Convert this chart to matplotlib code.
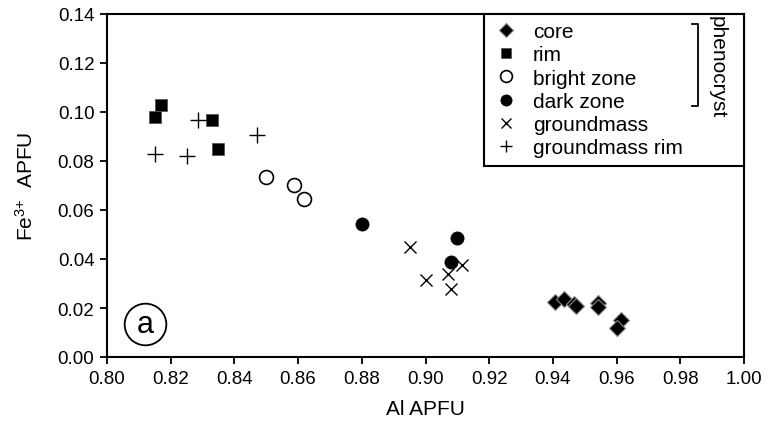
import matplotlib
matplotlib.use("Agg")
import matplotlib.pyplot as plt

plt.rcParams['font.family'] = ['Liberation Sans', 'DejaVu Sans']
plt.rcParams['mathtext.fontset'] = 'custom'
plt.rcParams['mathtext.rm'] = 'Liberation Sans'
plt.rcParams['mathtext.it'] = 'Liberation Sans:italic'
plt.rcParams['mathtext.bf'] = 'Liberation Sans:bold'
plt.rcParams['mathtext.default'] = 'regular'

# ---- data (Al APFU, Fe3+ APFU) ----
core_x = [0.9408, 0.9435, 0.9465, 0.9473, 0.9543, 0.9543, 0.9614, 0.9600]
core_y = [0.0224, 0.0237, 0.0216, 0.0208, 0.0219, 0.0203, 0.0151, 0.0118]

rim_x = [0.815, 0.817, 0.833, 0.835]
rim_y = [0.098, 0.103, 0.0967, 0.085]

bright_x = [0.850, 0.8588, 0.862]
bright_y = [0.0735, 0.070, 0.0645]

dark_x = [0.880, 0.910, 0.908]
dark_y = [0.0543, 0.0486, 0.0388]

gm_x = [0.895, 0.900, 0.907, 0.908, 0.9115]
gm_y = [0.045, 0.0314, 0.0339, 0.0278, 0.0376]

gmrim_x = [0.815, 0.825, 0.8285, 0.847]
gmrim_y = [0.083, 0.082, 0.0967, 0.0906]

labels = ["core", "rim", "bright zone", "dark zone", "groundmass", "groundmass rim"]
xticks = [0.80, 0.82, 0.84, 0.86, 0.88, 0.90, 0.92, 0.94, 0.96, 0.98, 1.00]
yticks = [0.00, 0.02, 0.04, 0.06, 0.08, 0.10, 0.12, 0.14]

FS = 13.5
LFS = 15

fig = plt.figure(figsize=(7.67, 4.31), dpi=100)
ax = fig.add_axes([107/767, 1 - 358/431, (744-107)/767, (358-15)/431])

h_core, = ax.plot(core_x, core_y, ls='none', marker='D', ms=8.5, mfc='black',
                  mec='#888888', mew=0.8, label=labels[0])
h_rim, = ax.plot(rim_x, rim_y, ls='none', marker='s', ms=9, mfc='black',
                 mec='#555555', mew=0.6, label=labels[1])
h_bright, = ax.plot(bright_x, bright_y, ls='none', marker='o', ms=10, mfc='white',
                    mec='black', mew=1.2, label=labels[2])
h_dark, = ax.plot(dark_x, dark_y, ls='none', marker='o', ms=9.5, mfc='black',
                  mec='black', mew=0.5, label=labels[3])
h_gm, = ax.plot(gm_x, gm_y, ls='none', marker='x', ms=8, mec='black',
                mew=1.0, label=labels[4])
h_gmrim, = ax.plot(gmrim_x, gmrim_y, ls='none', marker='+', ms=11, mec='black',
                   mew=1.0, label=labels[5])

ax.set_xlim(0.80, 1.00)
ax.set_ylim(0.00, 0.14)
ax.set_xticks(xticks)
ax.set_yticks(yticks)
ax.set_xticklabels([f"{v:.2f}" for v in xticks])
ax.set_yticklabels([f"{v:.2f}" for v in yticks])
ax.tick_params(direction='out', length=5, width=1.3, labelsize=FS, pad=4)
for s in ax.spines.values():
    s.set_linewidth(1.5)

ax.set_xlabel("Al APFU", fontsize=LFS, labelpad=9)
ax.set_ylabel("Fe$^{3{+}}$  APFU", fontsize=LFS, labelpad=15)

leg = ax.legend(handles=[h_core, h_rim, h_bright, h_dark, h_gm, h_gmrim],
                loc='upper left', bbox_to_anchor=(0.592, 0, 0.408, 1.0),
                mode='expand', fontsize=LFS, frameon=True, fancybox=False,
                borderaxespad=0, borderpad=0.4, labelspacing=0.2,
                handlelength=1.32, handletextpad=0.63, markerscale=0.85)
leg.get_frame().set_edgecolor('black')
leg.get_frame().set_linewidth(1.5)
leg.get_frame().set_alpha(1)

# bracket for phenocryst
bx, by0, by1, hook = 0.928, 0.732, 0.971, 0.010
ax.plot([bx - hook, bx, bx, bx - hook], [by1, by1, by0, by0], color='black',
        lw=1.3, transform=ax.transAxes, clip_on=False, zorder=10)
ax.text(0.958, 0.848, "phenocryst", rotation=-90, ha='center', va='center',
        fontsize=LFS, transform=ax.transAxes, zorder=10)

# panel label
ax.plot([0.0597], [0.0962], marker='o', ms=30, mfc='none', mec='black', mew=1.3,
        transform=ax.transAxes, clip_on=False)
ax.text(0.0597, 0.0962, "a", ha='center', va='center', fontsize=22,
        transform=ax.transAxes)

fig.savefig("out.png", dpi=100)
